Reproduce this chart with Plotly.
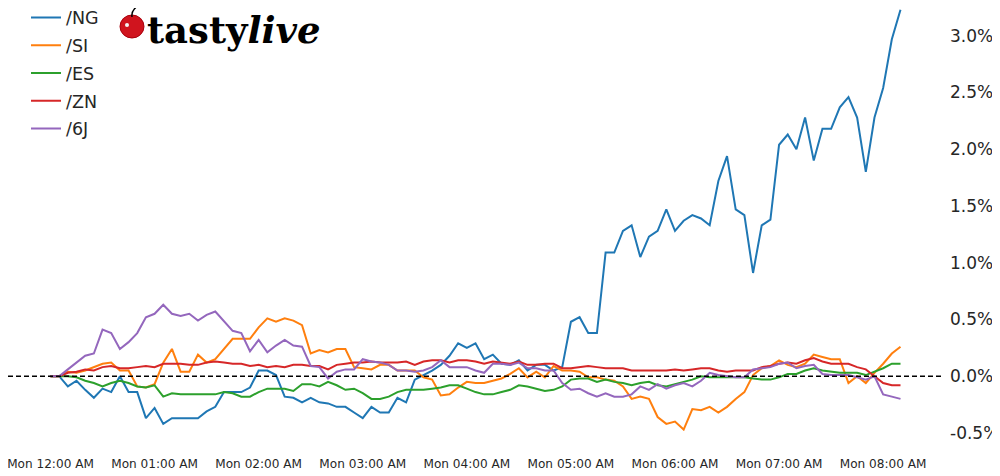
import plotly.graph_objects as go
from datetime import datetime, timedelta

# ---- data (percent change vs. 12:00 AM, 5-minute bars) ----
START = datetime(2024, 1, 8, 0, 0)   # a Monday
STEP_MIN = 5

NG = [0, 0, -0.09, -0.04, -0.12, -0.19, -0.11, -0.14, 0.0, -0.14,
      -0.14, -0.37, -0.28, -0.42, -0.37, -0.37, -0.37, -0.37, -0.31, -0.27,
      -0.14, -0.14, -0.14, -0.10, 0.05, 0.05, 0.01, -0.18, -0.19, -0.23,
      -0.19, -0.23, -0.24, -0.27, -0.27, -0.32, -0.37, -0.27, -0.32, -0.32,
      -0.19, -0.23, -0.03, 0.01, 0.05, 0.10, 0.18, 0.29, 0.25, 0.29,
      0.15, 0.19, 0.11, 0.10, 0.14, 0.05, 0.10, 0.10, 0.05, 0.08,
      0.48, 0.52, 0.38, 0.38, 1.09, 1.09, 1.28, 1.33, 1.05, 1.23,
      1.28, 1.47, 1.28, 1.37, 1.42, 1.39, 1.33, 1.72, 1.94, 1.47,
      1.42, 0.91, 1.33, 1.38, 2.04, 2.13, 2.00, 2.28, 1.90, 2.18,
      2.18, 2.37, 2.46, 2.28, 1.80, 2.28, 2.54, 2.97, 3.23]

SI = [0, 0, 0.04, 0.03, 0.05, 0.08, 0.11, 0.12, 0.05, 0.05,
      -0.09, -0.10, -0.07, 0.12, 0.24, 0.04, 0.04, 0.19, 0.12, 0.15,
      0.24, 0.33, 0.33, 0.33, 0.43, 0.51, 0.48, 0.51, 0.49, 0.45,
      0.20, 0.23, 0.21, 0.24, 0.24, 0.08, 0.07, 0.06, 0.10, 0.10,
      0.05, 0.05, 0.05, -0.01, -0.03, -0.17, -0.16, -0.10, -0.05, -0.06,
      -0.06, -0.04, -0.02, 0.02, 0.07, -0.01, 0.04, -0.01, 0.09, 0.05,
      0.05, 0.04, -0.01, -0.01, -0.03, -0.04, -0.09, -0.20, -0.18, -0.20,
      -0.36, -0.42, -0.40, -0.47, -0.29, -0.30, -0.27, -0.32, -0.27, -0.20,
      -0.14, 0.01, 0.07, 0.09, 0.14, 0.10, 0.08, 0.11, 0.19, 0.17,
      0.15, 0.15, -0.06, 0.0, -0.06, 0.03, 0.11, 0.20, 0.26]

ES = [0, 0, 0, -0.01, -0.04, -0.06, -0.09, -0.06, -0.04, -0.06,
      -0.09, -0.10, -0.08, -0.18, -0.15, -0.16, -0.16, -0.16, -0.16, -0.16,
      -0.14, -0.15, -0.18, -0.18, -0.14, -0.11, -0.11, -0.11, -0.13, -0.07,
      -0.07, -0.09, -0.05, -0.08, -0.12, -0.11, -0.15, -0.20, -0.20, -0.18,
      -0.14, -0.12, -0.12, -0.12, -0.11, -0.10, -0.08, -0.08, -0.11, -0.14,
      -0.16, -0.16, -0.14, -0.12, -0.08, -0.09, -0.11, -0.13, -0.12, -0.09,
      -0.03, -0.02, -0.02, -0.05, -0.03, -0.05, -0.06, -0.08, -0.06, -0.05,
      -0.08, -0.09, -0.07, -0.05, -0.03, 0.0, -0.01, -0.01, -0.01, -0.01,
      -0.01, -0.02, -0.03, -0.03, -0.01, 0.02, 0.02, 0.05, 0.07, 0.05,
      0.04, 0.03, 0.03, 0.03, 0.01, 0.04, 0.07, 0.11, 0.11]

ZN = [0, 0, 0.03, 0.04, 0.06, 0.05, 0.08, 0.09, 0.07, 0.07,
      0.08, 0.09, 0.08, 0.11, 0.11, 0.11, 0.10, 0.10, 0.12, 0.13,
      0.12, 0.11, 0.11, 0.09, 0.10, 0.08, 0.09, 0.08, 0.10, 0.10,
      0.09, 0.09, 0.06, 0.10, 0.11, 0.12, 0.12, 0.13, 0.12, 0.12,
      0.12, 0.13, 0.10, 0.13, 0.14, 0.14, 0.12, 0.14, 0.14, 0.13,
      0.11, 0.13, 0.12, 0.11, 0.13, 0.10, 0.10, 0.11, 0.11, 0.07,
      0.07, 0.08, 0.09, 0.08, 0.07, 0.07, 0.07, 0.05, 0.05, 0.05,
      0.05, 0.05, 0.06, 0.05, 0.06, 0.07, 0.07, 0.05, 0.04, 0.05,
      0.05, 0.05, 0.08, 0.09, 0.11, 0.12, 0.11, 0.14, 0.16, 0.13,
      0.11, 0.11, 0.11, 0.08, 0.06, 0.0, -0.06, -0.08, -0.08]

J6 = [0, 0, 0.06, 0.12, 0.18, 0.20, 0.41, 0.38, 0.24, 0.30,
      0.38, 0.52, 0.55, 0.63, 0.55, 0.53, 0.55, 0.49, 0.54, 0.57,
      0.48, 0.40, 0.38, 0.22, 0.32, 0.21, 0.27, 0.32, 0.27, 0.26,
      0.09, 0.08, -0.02, 0.04, 0.06, 0.06, 0.15, 0.13, 0.12, 0.10,
      0.05, 0.05, 0.04, 0.05, 0.08, 0.14, 0.08, 0.08, 0.08, 0.05,
      0.03, 0.11, 0.11, 0.10, 0.12, 0.07, 0.07, 0.05, 0.05, -0.06,
      -0.12, -0.11, -0.15, -0.18, -0.15, -0.18, -0.18, -0.16, -0.09, -0.12,
      -0.07, -0.11, -0.08, -0.06, -0.09, -0.04, 0.03, 0.01, 0.00, -0.01,
      -0.01, 0.06, 0.07, 0.08, 0.11, 0.12, 0.07, 0.09, 0.10, 0.02,
      0.01, 0.01, 0.01, -0.01, -0.03, 0.00, -0.16, -0.18, -0.20]

SERIES_NAMES = ["/NG", "/SI", "/ES", "/ZN", "/6J"]
SERIES_COLORS = ["#1f77b4", "#ff7f0e", "#2ca02c", "#d62728", "#9467bd"]

X_TICK_LABELS = ["Mon 12:00 AM", "Mon 01:00 AM", "Mon 02:00 AM", "Mon 03:00 AM",
                 "Mon 04:00 AM", "Mon 05:00 AM", "Mon 06:00 AM", "Mon 07:00 AM",
                 "Mon 08:00 AM"]
Y_TICK_VALUES = [-0.5, 0.0, 0.5, 1.0, 1.5, 2.0, 2.5, 3.0]
Y_TICK_LABELS = ["-0.5%", "0.0%", "0.5%", "1.0%", "1.5%", "2.0%", "2.5%", "3.0%"]

# ---- build ----
all_series = [NG, SI, ES, ZN, J6]
n = len(NG)
for s in all_series:
    assert len(s) == n

fmt = "%Y-%m-%d %H:%M:%S"
times = [(START + timedelta(minutes=STEP_MIN * i)).strftime(fmt) for i in range(n)]
x_tickvals = [(START + timedelta(hours=h)).strftime(fmt) for h in range(len(X_TICK_LABELS))]

span_min = STEP_MIN * (n - 1)
pad = 0.05 * span_min
x_range = [(START - timedelta(minutes=pad)).strftime(fmt),
           (START + timedelta(minutes=span_min + pad)).strftime(fmt)]

# figure geometry (page body adds an 8px offset)
FIG_W, FIG_H = 992, 468
M_L, M_R, M_T, M_B = 0, 57, 0, 24
PW = FIG_W - M_L - M_R
PH = FIG_H - M_T - M_B
OFF = 8


def px(xr):
    return (xr - OFF - M_L) / PW


def py(yr):
    return 1 - (yr - OFF - M_T) / PH


fig = go.Figure()
for name, color, vals in zip(SERIES_NAMES, SERIES_COLORS, all_series):
    fig.add_trace(go.Scatter(
        x=times, y=vals, mode="lines", name=name, legendgroup=name,
        line=dict(color=color, width=2),
    ))

fig.add_shape(type="line", xref="paper", x0=0, x1=1, yref="y", y0=0, y1=0,
              line=dict(color="black", width=1.5, dash="5px,3px"), layer="above")

# logo: cherry + wordmark
fig.add_shape(type="circle", xref="paper", yref="paper",
              x0=px(120), x1=px(144), y0=py(38), y1=py(15),
              fillcolor="#d0141e", line=dict(color="#a8000c", width=1), layer="above")
fig.add_shape(type="circle", xref="paper", yref="paper",
              x0=px(125), x1=px(129), y0=py(27), y1=py(23),
              fillcolor="#f4f4f4", line=dict(width=0), layer="above")
fig.add_shape(type="path", xref="paper", yref="paper",
              path="M {:.4f},{:.4f} Q {:.4f},{:.4f} {:.4f},{:.4f}".format(
                  px(132), py(17), px(131), py(10), px(139), py(5)),
              line=dict(color="black", width=1.5), layer="above")
fig.add_annotation(xref="paper", yref="paper", x=px(146), y=py(30.5),
                   xanchor="left", yanchor="middle", showarrow=False,
                   text="<b>tasty<i>live</i></b>", borderpad=0,
                   font=dict(family="DejaVu Serif", size=37, color="black"))

fig.update_layout(
    width=FIG_W, height=FIG_H,
    margin=dict(l=M_L, r=M_R, t=M_T, b=M_B, pad=0, autoexpand=False),
    paper_bgcolor="white", plot_bgcolor="white",
    font=dict(family="DejaVu Sans", color="#262626"),
    showlegend=True,
    legend=dict(x=px(26), y=1.019, xanchor="left", yanchor="top",
                font=dict(size=17.5, color="#262626"),
                bgcolor="rgba(0,0,0,0)", tracegroupgap=2, traceorder="grouped"),
    xaxis=dict(type="date", range=x_range, tickvals=x_tickvals, ticktext=X_TICK_LABELS,
               showgrid=False, zeroline=False, showline=False, ticks="",
               tickfont=dict(size=12.1, color="#262626"), automargin=False,
               ticklabelstandoff=3, ticklabeloverflow="allow"),
    yaxis=dict(range=[-0.668, 3.245], side="right", tickvals=Y_TICK_VALUES,
               ticktext=Y_TICK_LABELS, showgrid=False, zeroline=False, showline=False,
               ticks="", tickfont=dict(size=17, color="#262626"), automargin=False,
               ticklabelstandoff=6, ticklabeloverflow="allow"),
)

fig.write_html("out.html")
